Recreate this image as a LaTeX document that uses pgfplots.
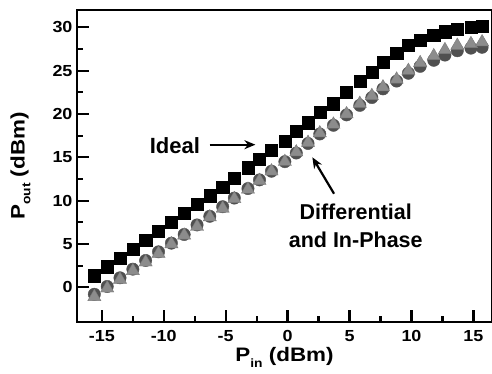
\documentclass[border=0pt]{standalone}
\usepackage{fontspec}
\setmainfont{Liberation Sans}
\newfontfamily\widefont[FakeStretch=1.12]{Liberation Sans}
\newfontfamily\labfont[FakeStretch=1.15]{Liberation Sans}
\usepackage{pgfplots}
\pgfplotsset{compat=1.18}
\usetikzlibrary{arrows.meta}
\definecolor{circgray}{HTML}{505050}
\definecolor{trigray}{HTML}{8C8C8C}
\definecolor{triedge}{HTML}{7A7A7A}
\begin{document}
\begin{tikzpicture}
\path[use as bounding box] (-77pt,-51pt) rectangle (415pt,322pt);
\begin{axis}[
  name=ax,
  at={(0pt,0pt)}, anchor=south west,
  scale only axis,
  width=415pt, height=312pt,
  xmin=-17, xmax=16.5,
  ymin=-4, ymax=32,
  xtick={-15,-10,...,15},
  ytick={0,5,...,30},
  minor x tick num=1,
  minor y tick num=1,
  tick align=inside,
  xtick pos=left, ytick pos=left,
  major tick length=12pt,
  minor tick length=6pt,
  axis line style={line width=2.4pt},
  every tick/.style={line width=2.2pt, black},
  /pgf/number format/assume math mode=true,
  tick label style={font=\widefont\bfseries\fontsize{16}{18}\selectfont},
  xticklabel style={yshift=-5pt},
  yticklabel style={xshift=-1pt},
  xlabel={\labfont\bfseries\fontsize{19.5}{22}\selectfont P\raisebox{-0.55ex}{\fontsize{12}{13}\selectfont in} (dBm)},
  ylabel={\labfont\bfseries\fontsize{19.5}{22}\selectfont P\raisebox{-0.55ex}{\fontsize{12}{13}\selectfont out} (dBm)},
  xlabel style={at={(axis description cs:0.5,0)}, anchor=north, yshift=-22pt},
  ylabel style={at={(axis description cs:0,0.5)}, anchor=south, yshift=43pt},
  clip=false,
]
% Ideal
\addplot[only marks, mark=square*, mark size=6.1pt, mark options={fill=black, draw=black}] coordinates {
(-15.6,1.35) (-14.56,2.38) (-13.53,3.40) (-12.49,4.43) (-11.46,5.45) (-10.42,6.48)
(-9.38,7.50) (-8.35,8.53) (-7.31,9.55) (-6.28,10.58) (-5.24,11.6) (-4.3,12.6)
(-3.2,13.8) (-2.27,14.8) (-1.3,15.85) (-0.22,16.9) (0.7,18.0) (1.65,19.0)
(2.6,20.2) (3.7,21.2) (4.76,22.5) (5.83,23.8) (6.8,24.8) (7.7,25.95)
(8.8,27.0) (9.75,27.9) (10.7,28.5) (11.8,29.1) (12.7,29.5) (13.7,29.8)
(14.8,30.0) (15.7,30.1)
};
% Differential
\addplot[only marks, mark=*, mark size=6.2pt, mark options={fill=circgray, draw=circgray}] coordinates {
(-15.6,-0.8) (-14.56,0.1) (-13.53,1.1) (-12.49,2.1) (-11.46,3.1) (-10.42,4.1)
(-9.38,5.1) (-8.35,6.1) (-7.31,7.2) (-6.28,8.2) (-5.24,9.3) (-4.3,10.3)
(-3.2,11.4) (-2.27,12.4) (-1.3,13.4) (-0.22,14.5) (0.7,15.5) (1.65,16.6)
(2.6,17.7) (3.7,18.7) (4.76,19.9) (5.83,21.0) (6.8,21.9) (7.7,22.9)
(8.8,23.8) (9.75,24.7) (10.7,25.5) (11.8,26.2) (12.7,26.8) (13.7,27.3)
(14.8,27.6) (15.7,27.7)
};
% In-Phase
\addplot[only marks, mark=triangle*, mark size=7.6pt, mark options={fill=trigray, draw=triedge, line width=0.4pt}] coordinates {
(-15.6,-1.1) (-14.56,-0.1) (-13.53,0.9) (-12.49,1.9) (-11.46,2.9) (-10.42,3.9)
(-9.38,5.0) (-8.35,6.0) (-7.31,7.0) (-6.28,8.1) (-5.24,9.1) (-4.3,10.2)
(-3.2,11.3) (-2.27,12.3) (-1.3,13.4) (-0.22,14.5) (0.7,15.6) (1.65,16.7)
(2.6,17.8) (3.7,18.8) (4.76,20.0) (5.83,21.2) (6.8,22.1) (7.7,23.1)
(8.8,24.0) (9.75,25.0) (10.7,25.9) (11.8,26.7) (12.7,27.4) (13.7,27.9)
(14.8,28.1) (15.7,28.3)
};
\node[font=\bfseries\fontsize{22}{24}\selectfont] at (axis cs:-9.1,16.4) {Ideal};
\draw[line width=2.2pt, -{Stealth[length=11pt,width=9pt]}] (axis cs:-6.3,16.46) -- (axis cs:-2.6,16.46);
\draw[line width=2.2pt, -{Stealth[length=11pt,width=9pt]}] (axis cs:3.75,10.8) -- (axis cs:2.0,15.0);
\node[font=\bfseries\fontsize{21.5}{28}\selectfont, align=center] at (axis cs:5.5,7.1) {Differential\\and In-Phase};
\end{axis}
\end{tikzpicture}
\end{document}
